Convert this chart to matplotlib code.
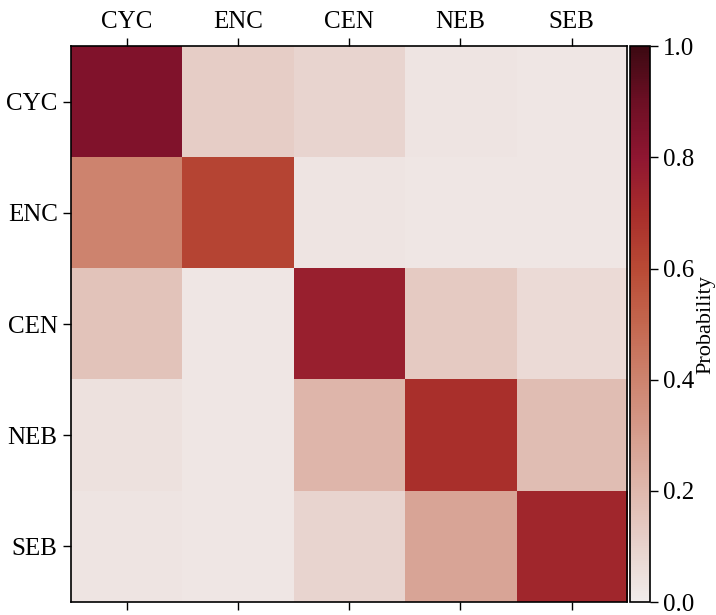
import matplotlib
matplotlib.use("Agg")
import matplotlib.pyplot as plt
import numpy as np
from matplotlib.colors import LinearSegmentedColormap

plt.rcParams['font.family'] = ['Liberation Serif', 'DejaVu Serif']

labels = ['CYC', 'ENC', 'CEN', 'NEB', 'SEB']
probs = [
    [0.84, 0.12, 0.09, 0.03, 0.02],
    [0.40, 0.62, 0.03, 0.02, 0.02],
    [0.16, 0.02, 0.76, 0.13, 0.07],
    [0.04, 0.02, 0.21, 0.69, 0.18],
    [0.03, 0.02, 0.09, 0.27, 0.73],
]

# approximation of cmocean "amp"
amp_colors = ['#f1eceb', '#e8d2cc', '#dfb8ad', '#d69d8d', '#cd836e', '#c4674f',
              '#b94a35', '#a82d2b', '#8f1631', '#6d0f24', '#3c0912']
cmap = LinearSegmentedColormap.from_list('amp', amp_colors)

fig = plt.figure(figsize=(7.16, 6.15), dpi=100)
ax = fig.add_axes([0.099, 0.021, 0.777, 0.904])
cax = fig.add_axes([0.880, 0.021, 0.028, 0.904])

im = ax.imshow(np.array(probs), cmap=cmap, vmin=0, vmax=1, aspect='auto')
ax.set_xticks(range(len(labels)))
ax.set_xticklabels(labels)
ax.set_yticks(range(len(labels)))
ax.set_yticklabels(labels)
ax.tick_params(axis='x', top=True, labeltop=True, bottom=True, labelbottom=False)
ax.tick_params(labelsize=18, length=6, width=1)
for s in ax.spines.values():
    s.set_linewidth(1.2)

cb = fig.colorbar(im, cax=cax)
cb.set_label('Probability', fontsize=16, labelpad=1)
cb.ax.tick_params(labelsize=18, length=6, width=1)
cb.outline.set_linewidth(1.2)

fig.savefig('out.png', dpi=100)
